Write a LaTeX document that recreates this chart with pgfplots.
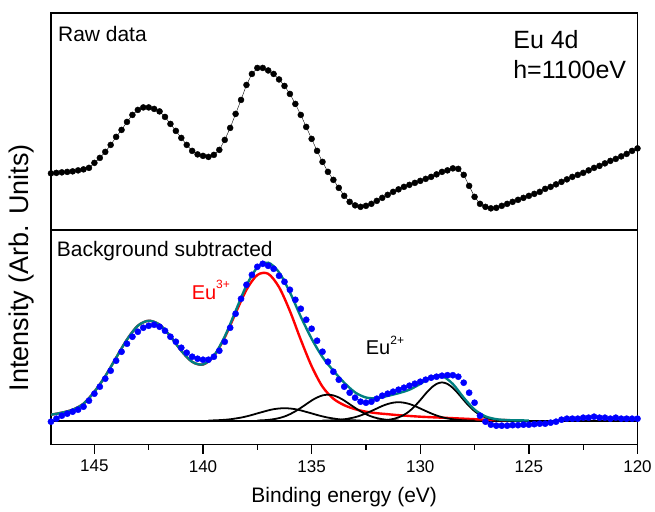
\documentclass[border=0pt]{standalone}
\usepackage{pgfplots}
\pgfplotsset{compat=1.18}
\usepackage{fontspec}
\setmainfont{Liberation Sans}
\usetikzlibrary{calc}
\definecolor{fitteal}{RGB}{0,128,128}

\pgfplotstableread{
x y
147.0 56.5
146.75 57
146.5 57.5
146.25 58
146.0 58.5
145.75 59.5
145.5 60.5
145.25 62
145.0 67
144.75 72
144.5 78
144.25 85
144.0 93
143.75 100
143.5 108
143.25 115
143.0 120
142.75 122.5
142.5 122.5
142.25 121
142.0 118.5
141.75 113
141.5 106
141.25 99
141.0 92
140.75 85
140.5 79
140.25 75.5
140.0 74
139.75 73
139.5 75
139.25 80
139.0 90
138.75 102
138.5 116
138.25 130
138.0 145
137.75 156
137.5 162
137.25 162
137.0 159.5
136.75 156
136.5 150.5
136.25 144
136.0 136
135.75 126
135.5 115
135.25 103
135.0 91
134.75 79
134.5 68
134.25 58
134.0 50
133.75 42
133.5 34
133.25 28
133.0 24.5
132.75 23
132.5 24
132.25 26
132.0 29
131.75 32
131.5 35
131.25 38
131.0 40.5
130.75 43
130.5 45
130.25 47
130.0 49
129.75 51
129.5 53
129.25 55.5
129.0 58
128.75 59.5
128.5 61.5
128.25 61
128.0 55
127.75 44
127.5 33
127.25 26
127.0 23
126.75 21.5
126.5 22
126.25 24
126.0 26
125.75 28
125.5 30
125.25 32
125.0 34
124.75 36
124.5 38
124.25 41
124.0 43
123.75 45.5
123.5 48
123.25 50.5
123.0 53
122.75 55
122.5 57
122.25 59.5
122.0 62
121.75 64
121.5 66.5
121.25 69
121.0 71
120.75 73.5
120.5 76
120.25 79
120.0 81.5
}\rawdata

\pgfplotstableread{
x y
147.0 23
146.75 26
146.5 29
146.25 31
146.0 33
145.75 35
145.5 38
145.25 44
145.0 51
144.75 58
144.5 66
144.25 74
144.0 84
143.75 93
143.5 101
143.25 108
143.0 113
142.75 117
142.5 119
142.25 120
142.0 118
141.75 114
141.5 108
141.25 103
141.0 97
140.75 92
140.5 88
140.25 86
140.0 85
139.75 85
139.5 88
139.25 94
139.0 103
138.75 117
138.5 131
138.25 146
138.0 160
137.75 170
137.5 178
137.25 181
137.0 179
136.75 176
136.5 169
136.25 163
136.0 155
135.75 145
135.5 136
135.25 125
135.0 116
134.75 104
134.5 93
134.25 83
134.0 73
133.75 65
133.5 58
133.25 52
133.0 47
132.75 43
132.5 42
132.25 43
132.0 46
131.75 49
131.5 51
131.25 53
131.0 55
130.75 57
130.5 59
130.25 61
130.0 63
129.75 65
129.5 67
129.25 68
129.0 69
128.75 69.5
128.5 69.5
128.25 68
128.0 62
127.75 52
127.5 42
127.25 29
127.0 23
126.75 20
126.5 19
126.25 19
126.0 19
125.75 19.5
125.5 19.5
125.25 20
125.0 20
124.75 20.5
124.5 21
124.25 21
124.0 22
123.75 23
123.5 25
123.25 26
123.0 26
122.75 26
122.5 27
122.25 27
122.0 28
121.75 27
121.5 27
121.25 26
121.0 27
120.75 26
120.5 26
120.25 26
120.0 26
}\bgdata

\begin{document}
\begin{tikzpicture}
\pgfplotsset{
  every axis/.append style={scale only axis, width=587bp, x dir=reverse,
    xmin=120, xmax=147, ytick=\empty,
    axis line style={line width=1.4bp}},
}
\begin{axis}[name=top, height=217bp, ymin=0, ymax=217, xtick=\empty]
  \addplot[black, line width=0.4bp, mark=*, mark size=3bp] table[x=x,y=y] {\rawdata};
  \node[anchor=base west, inner sep=0, font=\fontsize{21bp}{25bp}\selectfont] at (axis description cs:0.0119,0.868) {Raw data};
  \node[anchor=base west, inner sep=0, font=\fontsize{25bp}{30bp}\selectfont] at (axis description cs:0.788,0.837) {Eu 4d};
  \node[anchor=base west, inner sep=0, font=\fontsize{25bp}{30bp}\selectfont] at (axis description cs:0.788,0.696) {h=1100eV};
\end{axis}

\begin{axis}[name=bot, at={(top.south west)}, anchor=north west, height=215bp,
  ymin=0, ymax=215,
  xtick={120,125,...,145}, minor x tick num=1, tick align=outside, xtick pos=bottom,
  major tick length=9bp, minor tick length=5bp,
  every tick/.style={line width=1.4bp, black},
  /pgf/number format/assume math mode=true,
  xticklabel style={font=\fontsize{17bp}{20bp}\selectfont, yshift=-3bp},
  xlabel={Binding energy (eV)},
  xlabel style={font=\fontsize{21bp}{25bp}\selectfont, at={(axis description cs:0.5,0)}, anchor=center, yshift=-52bp}]
  \addplot[only marks, blue, mark=*, mark size=3.1bp] table[x=x,y=y] {\bgdata};
  % baseline
  \addplot[black, line width=1.8bp] coordinates {(147,24) (120,24)};
  % Eu3+ component
  \addplot[red, line width=2.4bp, smooth] coordinates {
    (147,30) (146.5,32) (146,35) (145.5,41) (145,53) (144.5,68.5) (144,87)
    (143.5,105.2) (143,119) (142.5,124) (142,120.1) (141.5,108.4) (141,93.9)
    (140.5,82.9) (140,80.2) (139.5,88.7) (139,107.3) (138.5,131.6) (138,155)
    (137.5,169.8) (137,171) (136.5,157.6) (136,133.7) (135.5,105) (135,78.5)
    (134.5,58) (134,46) (133.5,39.5) (133,35.5) (132.5,33) (132,31.5)
    (131.5,30.5) (131,29.5) (130,28) (129,27) (128,26) (127,25) (126,24.5)};
  % Eu2+ and satellite components
  \addplot[black, line width=1.8bp, smooth] coordinates {
    (139.75,24.2) (139.5,24.3) (139.25,24.55) (139,24.9) (138.75,25.4) (138.5,26.2)
    (138.25,27.1) (138,28.3) (137.75,29.7) (137.5,31.3) (137.25,32.8) (137,34.3)
    (136.75,35.5) (136.5,36.2) (136.25,36.5) (136,36.2) (135.75,35.5) (135.5,34.3)
    (135.25,32.8) (135,31.3) (134.75,29.7) (134.5,28.3) (134.25,27.1) (134,26.2)
    (133.75,25.4) (133.5,24.9) (133.25,24.55) (133,24.3) (132.75,24.2)};
  \addplot[black, line width=1.8bp, smooth] coordinates {
    (137.5,24.2) (137.25,24.4) (137,24.8) (136.75,25.5) (136.5,26.6) (136.25,28.2)
    (136,30.5) (135.75,33.4) (135.5,36.8) (135.25,40.5) (135,44.2) (134.75,47.2)
    (134.5,49.3) (134.25,50) (134,49.3) (133.75,47.2) (133.5,44.2) (133.25,40.5)
    (133,36.8) (132.75,33.4) (132.5,30.5) (132.25,28.2) (132,26.6) (131.75,25.5)
    (131.5,24.8) (131.25,24.4) (131,24.2)};
  \addplot[black, line width=1.8bp, smooth] coordinates {
    (134.5,24.1) (134.25,24.2) (134,24.4) (133.75,24.8) (133.5,25.4) (133.25,26.3)
    (133,27.5) (132.75,29.2) (132.5,31.3) (132.25,33.7) (132,36.2) (131.75,38.7)
    (131.5,40.7) (131.25,42.0) (131,42.5) (130.75,42.0) (130.5,40.7) (130.25,38.7)
    (130,36.2) (129.75,33.7) (129.5,31.3) (129.25,29.2) (129,27.5) (128.75,26.3)
    (128.5,25.4) (128.25,24.8) (128,24.4) (127.75,24.2) (127.5,24.1)};
  \addplot[black, line width=1.8bp, smooth] coordinates {
    (132,24.15) (131.75,24.4) (131.5,24.8) (131.25,25.7) (131,27.3) (130.75,29.8)
    (130.5,33.5) (130.25,38.6) (130,44.6) (129.75,51.1) (129.5,56.8) (129.25,60.8)
    (129,62.3) (128.75,60.8) (128.5,56.8) (128.25,51.1) (128,44.6) (127.75,38.6)
    (127.5,33.5) (127.25,29.8) (127,27.3) (126.75,25.7) (126.5,24.8) (126.25,24.4)
    (126,24.15)};
  % envelope
  \addplot[fitteal, line width=2.4bp, smooth] coordinates {
    (147,30) (146.5,32) (146,35) (145.5,41) (145,53) (144.5,68.5) (144,87)
    (143.5,105.2) (143,119) (142.5,124) (142,120.1) (141.5,108.4) (141,93.9)
    (140.5,82.9) (140,80.3) (139.5,89) (139,108.2) (138.5,133.8) (138,159.3)
    (137.5,177.3) (137,182.1) (136.5,172.4) (136,152.4) (135.5,128.1) (135,106)
    (134.5,87.7) (134,74) (133.5,62) (133,52.3) (132.5,47.2) (132,46.4)
    (131.5,48.8) (131,51.5) (130.5,55) (130,60.8) (129.5,67.6) (129,68.8)
    (128.5,60.7) (128,47) (127.5,35.1) (127,28.3) (126.5,25.5) (126,24.6)
    (125.5,24.3) (125,24.2)};
  \node[anchor=base west, inner sep=0, font=\fontsize{21bp}{25bp}\selectfont] at (axis description cs:0.0097,0.876) {Background subtracted};
  \node[anchor=base west, inner sep=0, text=red, font=\fontsize{20bp}{24bp}\selectfont] at (axis description cs:0.2397,0.674) {Eu\raisebox{11bp}{\fontsize{12bp}{14bp}\selectfont 3+}};
  \node[anchor=base west, inner sep=0, font=\fontsize{20bp}{24bp}\selectfont] at (axis description cs:0.5366,0.4186) {Eu\raisebox{10bp}{\fontsize{12bp}{14bp}\selectfont 2+}};
\end{axis}
\node[rotate=90, font=\fontsize{27bp}{32bp}\selectfont] at ($(top.north west)+(-29bp,-255bp)$) {Intensity (Arb. Units)};
\path ($(top.north west)+(-51bp,13bp)$) rectangle ($(bot.south east)+(17bp,-67bp)$);
\end{tikzpicture}
\end{document}
